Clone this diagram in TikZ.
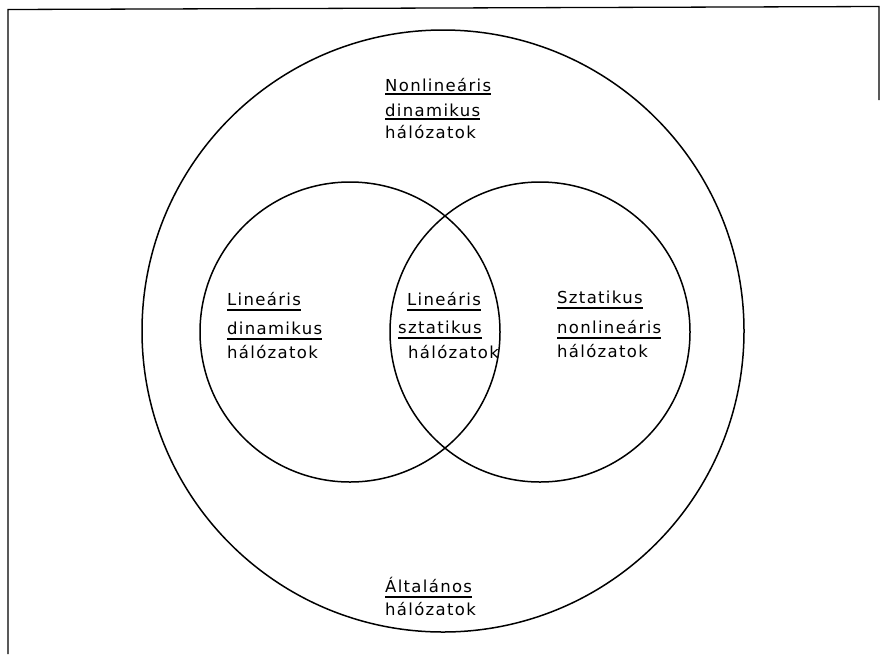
\documentclass[tikz,border=0pt]{standalone}
\usepackage{fontspec}
\newfontfamily\lblfont{DejaVu Sans}[LetterSpace=8]
\begin{document}
\begin{tikzpicture}[x=1pt,y=-1pt,
  lbl/.style={anchor=base west, inner sep=0pt, font=\lblfont\fontsize{16.5}{19}\selectfont},
  ul/.style={line width=1.2pt},
  circ/.style={line width=1.5pt},
  frame/.style={line width=1.3pt}]
\useasboundingbox (0,0) rectangle (880,654);
\draw[frame] (8,654) -- (8,9.5) -- (879,6.5) -- (879,100);
% circles
\draw[circ] (443,331) circle[radius=301pt];
\draw[circ] (350,332) circle[radius=150pt];
\draw[circ] (540,332) circle[radius=150pt];
% top group
\node[lbl] (t1) at (385,91) {Nonlineáris};
\node[lbl] (t2) at (385,116) {dinamikus};
\node[lbl] (t3) at (385,138) {hálózatok};
\draw[ul] ([yshift=-3pt]t1.base west) -- ([yshift=-3pt]t1.base east);
\draw[ul] ([yshift=-3pt]t2.base west) -- ([yshift=-3pt]t2.base east);
% left group
\node[lbl] (l1) at (227,305) {Lineáris};
\node[lbl] (l2) at (227,334) {dinamikus};
\node[lbl] (l3) at (227,358) {hálózatok};
\draw[ul] ([yshift=-5pt]l1.base west) -- ([yshift=-5pt]l1.base east);
\draw[ul] ([yshift=-5pt]l2.base west) -- ([yshift=-5pt]l2.base east);
% middle group
\node[lbl] (m1) at (407,305) {Lineáris};
\node[lbl] (m2) at (398,333) {sztatikus};
\node[lbl] (m3) at (408,358) {hálózatok};
\draw[ul] ([yshift=-5pt]m1.base west) -- ([yshift=-5pt]m1.base east);
\draw[ul] ([yshift=-5pt]m2.base west) -- ([yshift=-5pt]m2.base east);
% right group
\node[lbl] (r1) at (557,303) {Sztatikus};
\node[lbl] (r2) at (557,333) {nonlineáris};
\node[lbl] (r3) at (557,357) {hálózatok};
\draw[ul] ([yshift=-5pt]r1.base west) -- ([yshift=-5pt]r1.base east);
\draw[ul] ([yshift=-5pt]r2.base west) -- ([yshift=-5pt]r2.base east);
% bottom group
\node[lbl] (b1) at (385,592) {Általános};
\node[lbl] (b2) at (385,615) {hálózatok};
\draw[ul] ([yshift=-5pt]b1.base west) -- ([yshift=-5pt]b1.base east);
\end{tikzpicture}
\end{document}
